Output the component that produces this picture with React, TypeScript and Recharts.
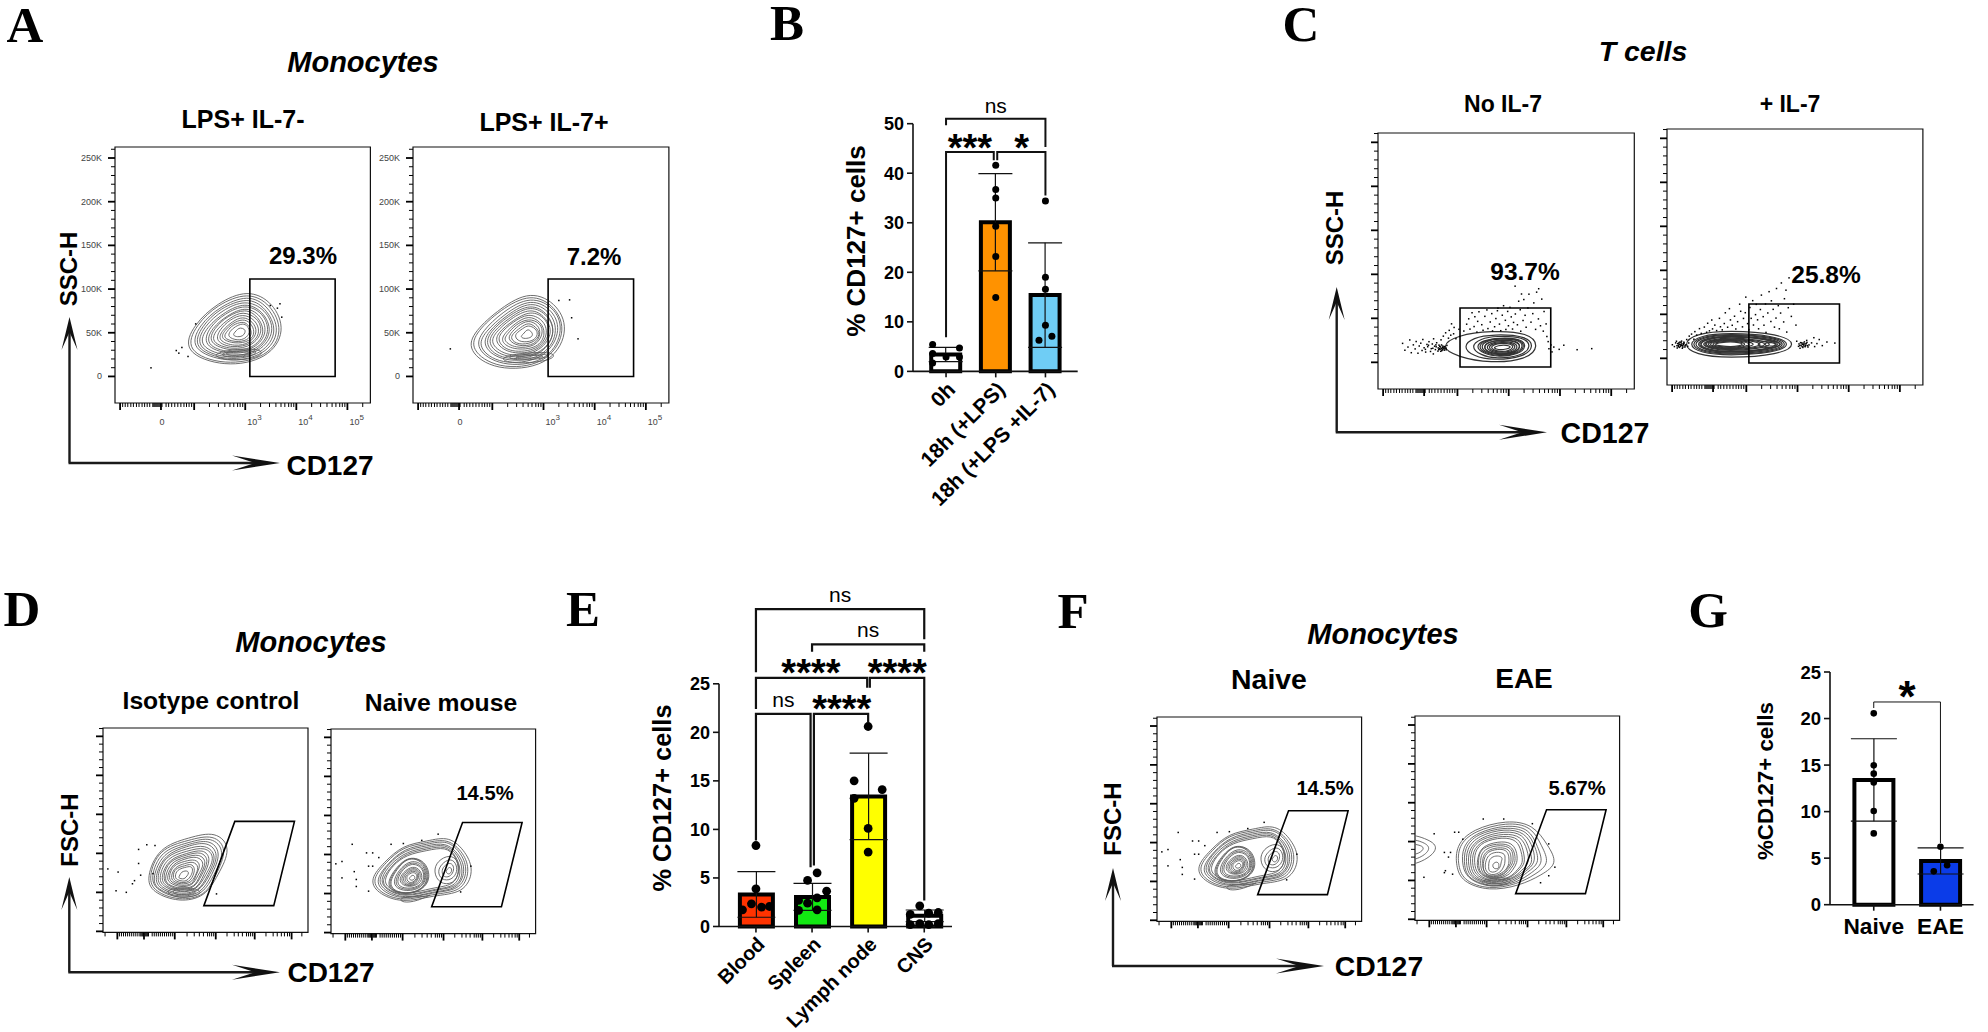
// App.tsx - CD127 flow cytometry and bar chart figure
import React from "react";
import {
  Bar,
  Cell,
  ComposedChart,
  ErrorBar,
  ReferenceArea,
  Scatter,
  ScatterChart,
  XAxis,
  YAxis,
} from "recharts";

type Pair = [number, number];

const SANS = "'Liberation Sans', Arial, sans-serif";
const SERIF = "'Liberation Serif', 'Times New Roman', serif";
const INK = "#111";

// ---- flow plot axes ----
const yMajor = [0, 50, 100, 150, 200, 250];
const yMinor = [10, 20, 30, 40, 60, 70, 80, 90, 110, 120, 130, 140, 160, 170, 180, 190, 210, 220, 230, 240, 260];
const yLabelsA = ["0", "50K", "100K", "150K", "200K", "250K"];

const xMajorAC = [2, 18, 31, 51, 71, 91];
const xMinorAC = [3, 4, 5, 6.2, 7.2, 8.4, 9.4, 10.6, 11.6, 12.6, 13.6, 14.8, 15.2, 15.6, 16, 16.4, 16.8, 17.2, 17.6, 18.4, 20, 21, 22.2, 23.4, 24.6, 25.8, 27, 28, 29, 30, 37, 40.5, 43, 45, 46.5, 48, 49, 50, 57, 60.5, 63, 65, 66.5, 68, 69, 70, 77, 80.5, 83, 85, 86.5, 88, 89, 90, 97];
const xLabelsA = ["0", "3", "4", "5"];
const xLabelTicksA = [18, 51, 71, 91];

const xMajorDF = [7, 20, 35, 55, 74, 92];
const xMinorDF = [1, 8, 9, 10, 11, 12, 13, 14, 15, 16, 17, 18, 18.5, 19, 19.4, 19.8, 20.6, 21, 21.4, 21.8, 22.2, 24, 25, 26, 27, 28, 29, 30, 31, 32, 33, 34, 41, 44.5, 47, 49, 51, 52, 53, 54, 60.5, 64, 66, 68, 70, 71, 72, 73, 79.5, 83, 85, 87, 88.5, 90, 91, 97];

// ---- gates ----
const gateA: Pair[] = [[52.8, 111.5], [86.2, 111.5], [86.2, 0], [52.8, 0]];
const gateC: Pair[] = [[32, 61.7], [67.4, 61.7], [67.4, -5.3], [32, -5.3]];
const gateDF: Pair[] = [[64.3, 141], [93.4, 141], [83.3, 33], [49.2, 33]];

// ---- contours, outermost first ----
const ringsLpsMinus: Pair[][] = [
  [[26, 28], [31, 60], [40, 84], [52, 100], [62, 85], [67, 52], [60, 20], [43, 10]],
  [[27, 29], [32, 60], [40, 82], [52, 97], [61, 83], [66, 52], [60, 22], [43, 12]],
  [[29, 31], [33, 59], [41, 80], [52, 94], [60, 81], [65, 52], [59, 24], [44, 15]],
  [[30, 32], [34, 58], [41, 78], [52, 91], [59, 79], [64, 52], [58, 25], [44, 17]],
  [[31, 33], [35, 58], [42, 76], [51, 88], [59, 77], [63, 52], [57, 27], [44, 19]],
  [[32, 34], [36, 57], [43, 74], [51, 85], [58, 75], [62, 51], [56, 28], [45, 21]],
  [[34, 35], [37, 57], [43, 72], [51, 83], [58, 73], [61, 51], [56, 30], [45, 24]],
  [[35, 36], [38, 56], [44, 70], [51, 80], [57, 71], [60, 51], [55, 31], [45, 26]],
  [[36, 38], [39, 56], [44, 69], [51, 78], [56, 69], [59, 51], [55, 33], [46, 28]],
  [[37, 39], [40, 55], [45, 67], [50, 75], [56, 67], [58, 51], [54, 35], [46, 30]],
  [[39, 40], [41, 54], [45, 65], [50, 72], [55, 65], [57, 51], [54, 37], [46, 32]],
  [[40, 41], [42, 53], [46, 63], [50, 69], [54, 63], [56, 51], [53, 38], [47, 34]],
  [[41, 43], [43, 53], [46, 61], [50, 66], [53, 62], [55, 51], [53, 40], [47, 37]],
  [[42, 44], [44, 52], [46, 59], [50, 63], [52, 60], [54, 50], [52, 41], [47, 39]],
  [[44, 45], [45, 52], [47, 57], [50, 61], [52, 58], [53, 50], [51, 43], [48, 41]],
  [[46, 47], [47, 51], [48, 54], [49, 56], [51, 54], [51, 50], [50, 46], [48, 45]],
  [[37, 24], [44, 30], [52, 32], [58, 30], [57, 22], [46, 17]],
  [[40, 25], [46, 29], [52, 30], [56, 28], [54, 24], [46, 21]],
  [[42, 26], [47, 28], [52, 28], [54, 27], [51, 25], [46, 24]],
];
const dotsLpsMinus: Pair[] = [[13.8, 10.7], [23.7, 30.5], [24.7, 27.5], [28.3, 23.7], [25.9, 34], [31.3, 61], [60.5, 82], [64.3, 84], [63.3, 79], [65, 68.7]];

const ringsLpsPlus: Pair[][] = [
  [[21, 30], [32, 6], [53, 11], [61, 50], [57, 82], [46, 99], [34, 78], [24, 52]],
  [[22, 31], [33, 8], [52, 13], [60, 50], [56, 80], [46, 96], [34, 76], [25, 52]],
  [[24, 32], [34, 11], [52, 15], [59, 50], [56, 78], [46, 93], [35, 74], [27, 52]],
  [[25, 33], [34, 13], [51, 18], [58, 50], [55, 76], [46, 90], [36, 72], [28, 51]],
  [[27, 34], [35, 16], [51, 20], [57, 50], [54, 74], [46, 87], [37, 71], [29, 51]],
  [[28, 35], [35, 18], [50, 22], [56, 49], [53, 72], [46, 84], [37, 69], [30, 51]],
  [[29, 36], [36, 20], [50, 24], [56, 49], [53, 70], [46, 82], [38, 68], [31, 51]],
  [[30, 37], [37, 22], [49, 26], [55, 49], [52, 68], [46, 79], [38, 66], [32, 50]],
  [[32, 38], [38, 25], [49, 28], [54, 49], [52, 67], [46, 76], [39, 64], [33, 50]],
  [[33, 39], [38, 27], [49, 30], [53, 49], [51, 65], [45, 73], [39, 62], [34, 50]],
  [[34, 40], [39, 30], [49, 32], [52, 49], [50, 63], [45, 70], [40, 61], [36, 50]],
  [[35, 41], [40, 32], [48, 34], [51, 49], [50, 61], [45, 67], [40, 59], [37, 49]],
  [[37, 42], [41, 34], [48, 36], [50, 49], [49, 59], [45, 65], [41, 58], [38, 49]],
  [[38, 43], [41, 36], [47, 38], [50, 48], [48, 57], [45, 62], [42, 56], [39, 49]],
  [[40, 44], [42, 39], [47, 40], [49, 48], [48, 55], [45, 59], [43, 55], [40, 49]],
  [[42, 46], [43, 43], [46, 44], [47, 48], [46, 52], [45, 54], [44, 52], [43, 48]],
  [[33, 20], [40, 26], [50, 28], [56, 26], [54, 18], [40, 14]],
  [[36, 22], [42, 25], [50, 26], [54, 24], [50, 20], [41, 18]],
  [[39, 22], [44, 24], [49, 24], [52, 23], [48, 21], [42, 21]],
];
const dotsLpsPlus: Pair[] = [[14.3, 32.4], [56.7, 87.8], [60.9, 88.5], [61.7, 68], [64.2, 43.9]];

const ringsNoIl7: Pair[][] = [
  [[24, 18], [31, 31], [44, 36], [59, 34], [63, 18], [58, 3], [44, -1], [31, 6]],
  [[33, 18], [37, 28], [45, 32], [58, 30], [61, 18], [57, 6], [45, 2], [37, 7]],
  [[36, 18], [40, 27], [46, 30], [57, 29], [60, 18], [56, 7], [46, 4], [40, 8]],
  [[38, 18], [41, 25], [47, 28], [56, 27], [58, 18], [55, 9], [47, 6], [41, 10]],
  [[39, 18], [41.5, 24.5], [47, 27.5], [55.5, 26.5], [57.5, 18], [54.5, 9.5], [47, 7], [41.5, 10.5]],
  [[40, 18], [42, 24], [47, 27], [55, 26], [57, 18], [54, 10], [47, 8], [42, 11]],
  [[41, 17.5], [43, 23.5], [48, 25], [54, 25], [56, 17.5], [53, 10.5], [48, 8.5], [43, 11]],
  [[41, 17], [43, 23], [48, 26], [54, 24], [56, 17], [53, 11], [48, 9], [43, 11]],
  [[42, 17], [44, 22], [48, 24], [53, 23], [55, 17], [52, 11], [48, 10], [44, 12]],
  [[43, 17], [44.5, 21], [48, 23], [52.5, 22], [54, 17], [51.5, 12], [48, 11], [44.5, 13]],
  [[44, 17], [45, 20], [48, 22], [52, 21], [53, 17], [51, 13], [48, 12], [45, 14]],
  [[45, 17], [47, 19], [49, 20], [51, 19], [52, 17], [50, 15], [48, 14], [46, 15]],
];
const dotsNoIl7: Pair[] = [
  [9.3, 22.4], [10.2, 14.6], [11.4, 18.2], [12.1, 26.3], [12.7, 11.8], [13.5, 20.7], [14.2, 16.1], [14.6, 24.5], [15.3, 11.2], [15.8, 19.4], [16.4, 22.6], [16.9, 14.3], [17.2, 26.8], [17.7, 17.4], [18.3, 12.5], [18.8, 21.2], [19.1, 18.6], [19.6, 24.3], [20.2, 13.2], [20.5, 16.4], [20.9, 21.7], [21.3, 10.4], [21.4, 27.6], [21.8, 19.2], [22.1, 15.3], [22.4, 18.5], [22.6, 23.1], [23.1, 13.6], [23.2, 17.2], [23.5, 20.4], [23.9, 15.7], [24.1, 18.3], [24.3, 26.4], [24.6, 14.2], [24.8, 17.5], [25, 19.3], [25.2, 30.6], [25.5, 16.2], [25.7, 18.8], [26.1, 34.4], [26.3, 15.1], [26.6, 20.1], [27.2, 28.3], [27.5, 37.2], [28.1, 31.7], [28.4, 44.6], [29.2, 33.3], [30.1, 27.7], [31.3, 38.4], [31.6, 30.2], [29.4, 40.5],
  [23.4, 15.2], [23.7, 16.6], [23.8, 19.1], [24.2, 13.4], [24.4, 16.3], [24.5, 20.6], [24.9, 15.1], [25.1, 16.8], [25.3, 18.2], [25.6, 14.7], [25.8, 17.3], [26.2, 16.6], [18.2, 15.6], [19.4, 20.3], [21.1, 16.8], [22.3, 20.7],
  [33.2, 36.4], [34.3, 44.2], [35.1, 50.3], [35.6, 38.6], [36.4, 57.2], [37.2, 41.5], [37.5, 52.7], [38.3, 35.2], [38.6, 47.4], [39.1, 58.3], [40.2, 43.6], [40.7, 37.3], [41.4, 53.1], [42.2, 60.4], [42.6, 39.2], [43.5, 46.7], [44.1, 56.2], [44.4, 36.5], [45.2, 41.3], [45.7, 50.6], [46.3, 59.5], [46.5, 62.4], [47.1, 44.3], [47.6, 36.8], [48.2, 54.4], [48.7, 65.2], [49.4, 48.6], [49.6, 38.2], [50.3, 58.7], [50.6, 42.4], [51.2, 63.3], [51.7, 52.5], [52.2, 38.7], [52.6, 46.2], [53.3, 55.8], [53.2, 87.4], [54.1, 43.5], [54.6, 70.3], [55.2, 60.6], [55.4, 36.2], [55.7, 78.5], [56.3, 48.4], [56.6, 72.2], [57.1, 54.3], [57.5, 40.7], [58.2, 62.6], [58.6, 78.3], [59.4, 46.5], [60.1, 56.2], [60.5, 68.4], [61.2, 38.3], [61.6, 80.6], [62.3, 50.2], [62.4, 84.5], [63.1, 42.4], [63.6, 72.7], [64.2, 36.3], [64.5, 58.6], [65.3, 44.5], [65.6, 30.2], [66.1, 24.4], [66.4, 16.3], [67.2, 20.6], [67.6, 12.7], [68.3, 18.2], [70.4, 15.6], [72.2, 20.3], [77.4, 15.2], [83.1, 16.4],
];

const ringsPlusIl7: Pair[][] = [
  [[6, 16], [11, 28], [24, 32], [44, 28], [51, 16], [44, 4], [24, 0], [11, 4]],
  [[8, 16], [13, 26], [24, 29], [42, 26], [49, 16], [42, 6], [24, 3], [13, 6]],
  [[9, 16], [13.5, 25], [24, 28], [41.5, 25], [48, 16], [41.5, 7], [24, 4], [13.5, 7]],
  [[10, 16], [14, 24], [24, 27], [41, 24], [47, 16], [41, 8], [24, 5], [14, 8]],
  [[11, 16], [15, 23], [24, 26], [40, 23], [46, 16], [40, 9], [24, 6], [15, 9]],
  [[11.5, 16], [15.5, 22.5], [24, 25.5], [39.5, 22.5], [45, 16], [39.5, 9.5], [24, 6.5], [15.5, 9.5]],
  [[12, 16], [16, 22], [24, 25], [39, 22], [44, 16], [39, 10], [24, 7], [16, 10]],
  [[13, 16], [17, 21], [24, 24], [36, 21], [42, 16], [36, 11], [24, 8], [17, 11]],
  [[13.5, 16], [17.5, 20.5], [24, 23], [34.5, 20.5], [40, 16], [34.5, 11.5], [24, 9], [17.5, 11.5]],
  [[14, 16], [18, 20], [24, 22], [33, 20], [38, 16], [33, 12], [24, 10], [18, 12]],
  [[15, 16], [18.5, 19.5], [24.5, 21.5], [31, 19.5], [35, 16], [31, 12.5], [24.5, 10.5], [18.5, 12.5]],
  [[16, 16], [19, 19], [25, 21], [30, 19], [33, 16], [30, 13], [25, 11], [19, 13]],
  [[17, 16], [20, 18.5], [25, 20], [29, 18.5], [31, 16], [29, 13.5], [25, 12], [20, 13.5]],
  [[18, 16], [21, 18], [25, 19], [28, 18], [30, 16], [28, 14], [25, 13], [21, 14]],
  [[35, 16], [37, 19], [40, 20], [43, 19], [45, 16], [43, 13], [40, 12], [37, 13]],
  [[38, 16], [39, 18], [41, 18], [42, 17], [43, 16], [42, 14], [40, 14], [39, 14]],
];
const dotsPlusIl7: Pair[] = [
  [1.8, 16.3], [2.6, 14.2], [3.1, 18.4], [3.4, 20.3], [3.7, 12.6], [4.1, 15.4], [4.3, 17.2], [4.6, 13.3], [4.9, 14.7], [5.1, 16.2], [5.2, 18.6], [5.4, 20.4], [5.7, 12.3], [5.8, 15.1], [6.1, 17.5], [6.3, 19.2], [6.7, 13.7], [7.1, 16.3], [7.4, 22.2], [7.8, 14.4], [8.2, 18.3], [8.4, 26.1], [9.3, 28.4], [10.2, 22.6], [10.6, 31.2], [11.3, 27.3], [12.4, 34.6], [13.1, 29.2], [14.3, 36.4], [15.2, 30.5], [15.6, 40.7], [16.3, 32.1], [17.2, 44.4], [17.5, 34.3], [18.4, 38.6], [19.1, 32.4], [20.2, 46.3], [20.6, 36.7], [21.3, 33.2], [22.1, 40.4], [22.5, 52.6], [23.4, 36.2], [24.1, 57.3], [24.5, 44.5], [25.2, 38.4], [26.1, 48.7], [26.6, 34.2], [27.3, 42.5], [28.1, 62.4], [28.5, 54.3], [29.2, 36.6], [29.6, 46.2], [30.3, 52.7], [30.5, 70.4], [31.2, 40.3], [31.7, 33.5], [32.1, 58.6], [32.6, 46.3], [33.2, 66.4], [33.5, 38.7], [34.3, 50.5], [34.6, 62.2], [35.1, 44.6], [35.5, 34.4], [36.2, 56.3], [36.6, 72.7], [37.3, 48.2], [37.6, 38.5], [38.2, 62.6], [38.4, 30.3], [39.1, 52.4], [39.6, 76.6], [40.3, 42.7], [40.5, 66.2], [41.2, 56.5], [41.7, 36.3], [42.3, 46.6], [42.5, 80.2], [43.2, 60.7], [43.6, 34.4], [44.1, 52.3], [44.4, 86.5], [45.3, 42.2], [45.6, 68.6], [46.2, 78.3], [46.5, 30.7], [47.1, 58.4], [47.4, 92.3], [48.3, 48.5], [49.2, 62.3], [50.1, 38.6], [50.4, 20.3], [51.1, 14.5], [51.3, 17.2], [51.7, 12.3], [52.1, 15.6], [52.3, 18.4], [52.8, 13.2], [53.1, 16.3], [53.4, 19.5], [53.7, 14.1], [54.1, 17.6], [54.3, 21.2], [54.8, 13.7], [55.2, 16.1], [56.2, 18.4], [57.1, 24.3], [57.4, 14.2], [58.3, 17.6], [59.2, 22.2], [60.4, 15.3], [62.2, 19.4], [65.3, 18.2],
  [3.6, 15.2], [3.9, 17.6], [4.2, 14.1], [4.4, 18.7], [4.7, 16.6], [4.8, 19.4], [5.3, 15.4], [5.5, 17.1], [5.9, 13.6], [6.2, 16.3], [6.4, 18.2], [6.8, 15.2], [51.6, 15.4], [51.9, 18.7], [52.5, 14.2], [52.6, 16.8], [52.9, 18.1], [53.2, 14.9], [53.6, 17.3], [53.9, 15.6], [54.4, 18.9], [54.6, 15.3],
];

const ringsIsotype: Pair[][] = [
  [[21, 68], [27, 108], [42, 120], [55, 129], [63, 107], [56, 72], [50, 44], [37, 37], [24, 50]],
  [[22, 68], [27, 106], [42, 117], [54, 125], [61, 105], [55, 72], [50, 45], [37, 39], [25, 51]],
  [[23, 68], [28, 104], [42, 114], [53, 122], [60, 103], [54, 72], [49, 47], [37, 41], [26, 53]],
  [[24, 68], [29, 101], [41, 111], [52, 119], [58, 101], [53, 72], [48, 48], [37, 43], [26, 54]],
  [[25, 69], [30, 99], [41, 109], [51, 116], [57, 99], [52, 72], [47, 50], [37, 45], [27, 55]],
  [[26, 69], [30, 97], [41, 106], [50, 112], [56, 97], [51, 72], [47, 51], [37, 47], [28, 56]],
  [[27, 69], [31, 95], [41, 103], [50, 109], [55, 95], [50, 72], [46, 53], [38, 49], [29, 57]],
  [[28, 69], [32, 93], [41, 100], [49, 106], [53, 93], [49, 72], [46, 54], [38, 50], [30, 58]],
  [[29, 69], [32, 91], [41, 98], [48, 103], [52, 91], [48, 72], [45, 56], [38, 52], [31, 59]],
  [[30, 69], [33, 89], [40, 95], [47, 100], [51, 89], [47, 71], [45, 57], [38, 54], [31, 60]],
  [[31, 70], [34, 87], [40, 93], [46, 97], [50, 87], [46, 71], [44, 59], [38, 56], [32, 62]],
  [[32, 70], [34, 85], [40, 90], [45, 93], [48, 85], [45, 71], [44, 60], [38, 58], [33, 63]],
  [[33, 70], [35, 83], [40, 87], [44, 90], [47, 83], [45, 71], [43, 62], [38, 60], [34, 64]],
  [[34, 70], [35, 81], [40, 84], [43, 87], [45, 81], [44, 71], [42, 63], [38, 62], [35, 65]],
  [[35, 70], [36, 79], [40, 82], [43, 84], [44, 79], [43, 71], [41, 65], [39, 64], [36, 66]],
  [[37, 70], [38, 75], [39, 77], [41, 78], [42, 75], [41, 71], [40, 68], [39, 67], [37, 68]],
  [[30, 52], [36, 56], [44, 56], [49, 50], [44, 44], [35, 43]],
  [[33, 52], [38, 55], [43, 54], [46, 50], [43, 47], [36, 46]],
];
const dotsIsotype: Pair[] = [[21, 112], [17, 106], [25, 111], [17, 88], [7, 77], [2, 81], [15, 66], [14, 62], [6, 53], [11, 51], [18, 73], [24, 75], [55, 49]];

const ringsNaive: Pair[][] = [
  [[19, 69], [26, 90], [35, 112], [47, 117], [58, 124], [66, 103], [70, 79], [65, 50], [50, 48], [35, 37], [22, 51]],
  [[20, 69], [27, 90], [35, 110], [47, 115], [57, 121], [65, 102], [68, 79], [64, 52], [50, 50], [35, 39], [23, 52]],
  [[22, 69], [28, 89], [36, 108], [47, 113], [57, 119], [64, 101], [67, 79], [63, 54], [50, 52], [35, 41], [24, 54]],
  [[23, 69], [28, 88], [36, 106], [47, 111], [56, 116], [63, 100], [66, 79], [62, 55], [50, 53], [36, 42], [25, 55]],
  [[24, 69], [29, 88], [37, 104], [47, 109], [56, 114], [62, 100], [65, 79], [62, 57], [50, 55], [36, 44], [26, 56]],
  [[25, 69], [30, 87], [37, 102], [47, 107], [56, 112], [61, 99], [64, 79], [61, 58], [50, 56], [36, 45], [26, 57]],
  [[26, 69], [30, 86], [37, 100], [47, 105], [56, 110], [61, 98], [63, 79], [60, 60], [50, 58], [36, 47], [27, 58]],
  [[27, 62], [31, 81], [38, 99], [47, 91], [49, 64], [41, 49], [31, 50]],
  [[27.5, 62], [31.5, 81], [38, 98.5], [46.5, 90.5], [48.5, 64], [41, 49.5], [31.5, 50.5]],
  [[28, 62], [32, 81], [38, 98], [46, 90], [48, 64], [41, 50], [32, 51]],
  [[30, 64], [33, 80], [39, 94], [46, 87], [47, 64], [41, 53], [33, 54]],
  [[31, 64], [33.5, 79], [39, 92], [45.5, 85], [46.5, 65], [41, 54.5], [33.5, 55.5]],
  [[32, 65], [34, 78], [39, 90], [45, 84], [46, 66], [41, 56], [34, 57]],
  [[33, 66], [35, 77], [40, 86], [44, 80], [45, 67], [41, 59], [36, 59]],
  [[34, 66.5], [35.5, 76], [40, 84], [43.5, 79], [44, 67.5], [40.5, 60], [36.5, 60]],
  [[35, 67], [36, 75], [40, 82], [43, 78], [43, 68], [40, 61], [37, 61]],
  [[36, 67.5], [36.5, 74], [40, 80], [42.5, 76.5], [42.5, 68.5], [40, 62.5], [37.5, 62.5]],
  [[37, 68], [37, 73], [40, 78], [42, 75], [42, 69], [40, 64], [38, 64]],
  [[38, 69], [39, 72], [40, 74], [41, 72], [41, 69], [40, 67], [39, 67]],
  [[50, 78], [52, 92], [58, 100], [62, 93], [63, 78], [60, 62], [53, 62]],
  [[52, 78], [54, 88], [58, 95], [61, 90], [62, 78], [59, 67], [54, 67]],
  [[54, 78], [55, 85], [58, 90], [60, 86], [60, 78], [58, 71], [55, 71]],
  [[56, 78], [57, 82], [58, 84], [59, 82], [59, 78], [58, 75], [57, 75]],
  [[33, 44], [40, 46], [47, 46], [50, 50], [42, 40], [35, 38]],
];
const dotsNaive: Pair[] = [[10, 114], [29, 114], [35, 115], [44, 119], [52, 127], [17, 103], [20, 103], [23, 97], [2, 89], [5, 92], [11, 79], [18, 86], [20, 86], [12, 69], [5, 71], [12, 60], [18, 54], [68, 86], [63, 53]];

const ringsEae: Pair[][] = [
  [[20, 68], [20, 95], [28, 116], [45, 128], [58, 122], [65, 95], [70, 72], [62, 57], [51, 43], [36, 36], [23, 48]],
  [[21, 68], [21, 95], [29, 114], [45, 125], [57, 120], [62, 94], [66, 72], [59, 58], [50, 45], [36, 38], [24, 49]],
  [[23, 68], [23, 94], [30, 112], [45, 122], [56, 117], [60, 93], [63, 72], [57, 60], [50, 47], [37, 40], [26, 51]],
  [[24, 68], [24, 92], [30, 110], [44, 119], [55, 115], [59, 92], [61, 72], [55, 61], [49, 48], [37, 41], [26, 52]],
  [[25, 68], [25, 91], [31, 108], [44, 117], [54, 112], [58, 91], [59, 72], [54, 62], [49, 50], [37, 43], [27, 53]],
  [[26, 68], [26, 90], [32, 106], [44, 114], [53, 110], [56, 90], [58, 72], [53, 62], [48, 51], [37, 45], [28, 53]],
  [[27, 68], [27, 89], [32, 104], [44, 111], [52, 107], [55, 89], [56, 72], [52, 63], [48, 52], [37, 46], [29, 54]],
  [[28, 68], [28, 88], [33, 102], [43, 108], [51, 105], [53, 88], [54, 72], [51, 64], [47, 53], [38, 47], [30, 55]],
  [[29, 68], [29, 87], [33, 100], [43, 106], [50, 102], [52, 87], [53, 72], [50, 64], [47, 54], [38, 48], [31, 56]],
  [[30, 68], [31, 85], [34, 96], [43, 101], [48, 97], [50, 85], [50, 72], [48, 65], [46, 56], [38, 50], [32, 57]],
  [[31, 68], [31, 84], [34, 94], [42, 98], [47, 95], [49, 84], [49, 72], [47, 66], [45, 57], [38, 51], [32, 58]],
  [[32, 68], [32, 83], [35, 92], [42, 96], [47, 92], [48, 83], [48, 72], [46, 66], [44, 58], [38, 52], [33, 58]],
  [[33, 68], [33, 82], [36, 90], [42, 93], [46, 90], [47, 82], [47, 71], [45, 66], [44, 59], [38, 53], [34, 58]],
  [[33, 68], [34, 81], [36, 88], [42, 91], [45, 88], [46, 81], [46, 71], [45, 66], [43, 60], [38, 54], [34, 59]],
  [[34, 68], [35, 79], [37, 85], [41, 87], [44, 84], [44, 79], [44, 71], [43, 66], [42, 61], [38, 56], [35, 60]],
  [[36, 67], [36, 76], [38, 81], [41, 82], [43, 79], [42, 74], [42, 69], [41, 65], [40, 62], [38, 60], [36, 62]],
  [[38, 67], [38, 71], [39, 73], [40, 74], [41, 72], [41, 69], [41, 66], [40, 65], [39, 65]],
  [[31, 48], [37, 53], [44, 54], [48, 50], [44, 44], [36, 42]],
  [[33, 48], [38, 51], [43, 52], [46, 49], [43, 46], [37, 45]],
  [[-8, 114], [6, 104], [12, 93], [6, 76], [-8, 64]],
  [[-6, 106], [4, 100], [8, 92], [4, 80], [-6, 72]],
  [[-4, 98], [2, 96], [5, 92], [2, 84], [-4, 82]],
];
const dotsEae: Pair[] = [[9, 111], [14.5, 63.5], [19, 113], [21, 113], [23, 104], [17, 87], [14, 87], [16, 81], [14, 61], [18, 59], [4, 55], [33, 130], [43, 130], [57, 124], [65, 98], [68, 68], [65, 57], [61, 48]];

// ---- bar panel B ----
const bCategories = ["0h", "18h (+LPS)", "18h (+LPS +IL-7)"];
const bMeans = [3.4, 30.1, 15.4];
const bErrors = [1.45, 9.8, 10.55];
const bColors = ["#ffffff", "#ff9200", "#6fcdf5"];
const bTicks = [0, 10, 20, 30, 40, 50];
const bDots: Pair[] = [[-0.27, 5.45], [0.27, 4.7], [-0.27, 3.6], [0, 2.9], [-0.27, 1.7], [0.27, 2.9], [1, 41.6], [1, 36.7], [1, 35], [1, 29.3], [1, 23.2], [1, 14.9], [2, 34.4], [2, 19], [2, 16.6], [2, 9.3], [1.87, 6.3], [2.13, 7.1]];
const bBrackets: Pair[][] = [
  [[0, 49.7], [0, 51], [2, 51], [2, 45.3]],
  [[0, 6.9], [0, 44.3], [0.96, 44.3], [0.96, 42.6]],
  [[1.03, 42.6], [1.03, 44.3], [2, 44.3], [2, 35.5]],
];
const bMarks = [
  { x: 1, y: 53.7, text: "ns" },
  { x: 0.48, y: 46.8, text: "***" },
  { x: 1.52, y: 46.8, text: "*" },
];

// ---- bar panel E ----
const eCategories = ["Blood", "Spleen", "Lymph node", "CNS"];
const eMeans = [3.3, 3.05, 13.4, 1.1];
const eErrors = [2.35, 1.4, 4.45, 0.6];
const eColors = ["#ff3300", "#12e812", "#ffff00", "#ffffff"];
const eTicks = [0, 5, 10, 15, 20, 25];
const eDots: Pair[] = [[0, 8.34], [0, 3.88], [-0.08, 2.33], [-0.24, 1.72], [0.1, 2], [0.24, 2.06], [1.09, 5.53], [0.92, 4.74], [1.26, 3.64], [1.09, 2.95], [0.76, 2.68], [0.92, 2.4], [0.76, 1.65], [1.09, 1.72], [2, 20.6], [1.75, 15], [2.25, 14.1], [1.75, 13.2], [2, 10.1], [2, 7.66], [2.92, 2.13], [2.75, 1.24], [3.08, 1.37], [3.25, 1.44], [2.75, 0.2], [2.92, 0.3], [3.08, 0.2], [3.25, 0.3]];
const eBrackets: Pair[][] = [
  [[0, 26.2], [0, 32.7], [3, 32.7], [3, 29.6]],
  [[1, 28.3], [1, 29.05], [3, 29.05], [3, 28.3]],
  [[0, 22.4], [0, 25.6], [1.983, 25.6], [1.983, 24.6]],
  [[2.03, 24.6], [2.03, 25.6], [3, 25.6], [3, 2.68]],
  [[0, 8.86], [0, 21.9], [0.974, 21.9], [0.974, 6.1]],
  [[1.033, 6.28], [1.033, 21.9], [2, 21.9], [2, 21.05]],
];
const eMarks = [
  { x: 1.5, y: 34.2, text: "ns" },
  { x: 2, y: 30.56, text: "ns" },
  { x: 0.98, y: 26.96, text: "****" },
  { x: 2.52, y: 26.96, text: "****" },
  { x: 0.49, y: 23.4, text: "ns" },
  { x: 1.53, y: 23.3, text: "****" },
];

// ---- bar panel G ----
const gCategories = ["Naive", "EAE"];
const gMeans = [13.4, 4.7];
const gErrors = [4.43, 1.4];
const gColors = ["#ffffff", "#0b3ce8"];
const gTicks = [0, 5, 10, 15, 20, 25];
const gDots: Pair[] = [[0, 20.56], [0, 14.97], [0, 14.08], [0, 13.14], [0, 10.06], [0, 7.66], [1, 6.23], [1.1, 4.23], [0.9, 3.58]];
const gBrackets: Pair[][] = [[[0, 21.13], [0, 21.78], [1, 21.78], [1, 6.63]]];
const gMarks = [{ x: 0.5, y: 23.35, text: "*" }];

const toPoints = (list: Pair[]) => list.map(([x, y]) => ({ x, y }));

function Txt({ x, y, size, children, italic, serif, rotate, weight = 700 }: any) {
  return (
    <div
      style={{
        position: "absolute",
        left: x,
        top: y,
        transform: `translate(-50%, -50%) rotate(${rotate || 0}deg)`,
        fontFamily: serif ? SERIF : SANS,
        fontSize: size,
        fontWeight: weight,
        fontStyle: italic ? "italic" : "normal",
        color: "#000",
        whiteSpace: "nowrap",
        lineHeight: serif ? 0.8 : 1,
      }}
    >
      {children}
    </div>
  );
}

interface FlowProps {
  x: number;
  y: number;
  w: number;
  h: number;
  yDomain: [number, number];
  xMajor: number[];
  xMinor: number[];
  rings: Pair[][];
  dots: Pair[];
  gate: Pair[];
  ringColor?: string;
  ringWidth?: number;
  labelled?: boolean;
}

// One contour plot; the frame is the plot area of the chart
function FlowPlot({ x, y, w, h, yDomain, xMajor, xMinor, rings, dots, gate, ringColor = "#5e5e5e", ringWidth = 0.9, labelled }: FlowProps) {
  const pad = 40;
  const xTick = (p: any) => {
    const v = p.payload.value;
    const major = xMajor.includes(v);
    const labelIndex = labelled ? xLabelTicksA.indexOf(v) : -1;
    return (
      <g>
        <line x1={p.x} x2={p.x} y1={p.y} y2={p.y + (major ? 7 : 4)} stroke="#000" strokeWidth={major ? 1.8 : 1} />
        {labelIndex === 0 && (
          <text x={p.x + 1} y={p.y + 22} fontSize={9} fontFamily={SANS} fill="#444" textAnchor="middle">
            0
          </text>
        )}
        {labelIndex > 0 && (
          <text x={p.x + 2} y={p.y + 22} fontSize={9} fontFamily={SANS} fill="#444">
            10
            <tspan dy={-5} fontSize={8}>
              {xLabelsA[labelIndex]}
            </tspan>
          </text>
        )}
      </g>
    );
  };
  const yTick = (p: any) => {
    const v = p.payload.value;
    const major = yMajor.includes(v);
    return (
      <g>
        <line x1={p.x - (major ? 7 : 4)} x2={p.x} y1={p.y} y2={p.y} stroke="#000" strokeWidth={major ? 1.8 : 1} />
        {labelled && major && (
          <text x={p.x - 13} y={p.y + 3} fontSize={9} fontFamily={SANS} fill="#444" textAnchor="end">
            {yLabelsA[yMajor.indexOf(v)]}
          </text>
        )}
      </g>
    );
  };

  return (
    <div style={{ position: "absolute", left: x - pad, top: y - pad }}>
      <ScatterChart width={w + pad * 2} height={h + pad * 2} margin={{ top: pad, right: pad, bottom: pad - 1, left: pad - 1 }}>
        <XAxis
          type="number"
          dataKey="x"
          domain={[0, 100]}
          ticks={[...xMajor, ...xMinor]}
          interval={0}
          height={1}
          tickSize={0}
          tickMargin={0}
          axisLine={false}
          tickLine={false}
          tick={xTick}
          allowDataOverflow
        />
        <YAxis
          type="number"
          dataKey="y"
          domain={yDomain}
          ticks={[...yMajor, ...yMinor]}
          interval={0}
          width={1}
          tickSize={0}
          tickMargin={0}
          axisLine={false}
          tickLine={false}
          tick={yTick}
        />
        <ReferenceArea x1={0} x2={100} y1={yDomain[0]} y2={yDomain[1]} fill="none" stroke="#111" strokeWidth={1.2} />
        {rings.map((ring, i) => (
          <Scatter
            key={i}
            data={toPoints(ring)}
            line={{ stroke: ringColor, strokeWidth: ringWidth }}
            lineJointType="basisClosed"
            shape={() => <g />}
            isAnimationActive={false}
          />
        ))}
        <Scatter
          data={toPoints(dots)}
          shape={(p: any) => <rect x={p.cx} y={p.cy} width={1.5} height={1.5} fill="#000" />}
          isAnimationActive={false}
        />
        <Scatter
          data={toPoints(gate)}
          line={{ stroke: "#000", strokeWidth: 1.6 }}
          lineJointType="linearClosed"
          shape={() => <g />}
          isAnimationActive={false}
        />
      </ScatterChart>
    </div>
  );
}

interface BarProps {
  x: number;
  bottom: number;
  w: number;
  h: number;
  extent: number;
  categories: string[];
  means: number[];
  errors: number[];
  colors: string[];
  dots: Pair[];
  brackets: Pair[][];
  marks: { x: number; y: number; text: string }[];
  ticks: number[];
  step: number;
  padLeft: number;
  barSize: number;
  capWidth: number;
  tickFont: number;
  labelFont: number;
  angled?: boolean;
  bracketWidth?: number;
  starFont?: number;
  nsFont?: number;
  dotRadius?: number;
}

// Bars sit on a category axis, the dots and brackets on a hidden numeric one lined up with it.
// The y domain runs past the last tick to make room for the brackets, so the axis line is its own series.
function BarPanel(props: BarProps) {
  const { x, bottom, w, h, extent, categories, means, errors, colors, dots, brackets, marks, ticks, step, padLeft, barSize, capWidth, tickFont, labelFont, angled, bracketWidth = 2, starFont = 38, nsFont = 21, dotRadius = 3.5 } = props;
  const n = categories.length;
  const tickMax = ticks[ticks.length - 1];
  const plotH = (h / tickMax) * extent;
  const padRight = w - padLeft - step * n;
  const left = 60;
  const top = 10;
  const below = 170;
  const data = categories.map((name, i) => ({ name, mean: means[i], err: errors[i] }));
  const numDomain: [number, number] = [-(padLeft + step / 2) / step, n - 1 + (padRight + step / 2) / step];
  const axisLine: Pair[] = [[numDomain[0], 0], [numDomain[0], tickMax]];

  return (
    <div style={{ position: "absolute", left: x - left, top: bottom - plotH - top }}>
      <ComposedChart
        width={w + left + 6}
        height={plotH + top + below}
        data={data}
        margin={{ top, right: 6, bottom: below - 1, left: left - 1 }}
      >
        <XAxis
          xAxisId="cat"
          dataKey="name"
          type="category"
          interval={0}
          height={1}
          padding={{ left: padLeft, right: padRight }}
          axisLine={{ stroke: INK, strokeWidth: 1.6 }}
          tickLine={{ stroke: INK, strokeWidth: 1.6 }}
          tickSize={6}
          tickMargin={angled ? 3 : 7}
          angle={angled ? -45 : 0}
          textAnchor={angled ? "end" : "middle"}
          tick={{ fontSize: labelFont, fontWeight: 700, fontFamily: SANS, fill: "#000" }}
        />
        <XAxis xAxisId="num" dataKey="x" type="number" hide domain={numDomain} />
        <YAxis
          type="number"
          domain={[0, extent]}
          ticks={ticks}
          interval={0}
          width={1}
          axisLine={false}
          tickLine={{ stroke: INK, strokeWidth: 1.6 }}
          tickSize={6}
          tickMargin={3}
          tick={{ fontSize: tickFont, fontWeight: 700, fontFamily: SANS, fill: "#000" }}
        />
        <Scatter
          xAxisId="num"
          dataKey="y"
          data={toPoints(axisLine)}
          line={{ stroke: INK, strokeWidth: 1.6 }}
          lineJointType="linear"
          shape={() => <g />}
          isAnimationActive={false}
        />
        <Bar xAxisId="cat" dataKey="mean" barSize={barSize} stroke="#000" strokeWidth={4} isAnimationActive={false}>
          {colors.map((c, i) => (
            <Cell key={i} fill={c} />
          ))}
          <ErrorBar dataKey="err" direction="y" width={capWidth} stroke={INK} strokeWidth={1.2} isAnimationActive={false} />
        </Bar>
        {brackets.map((b, i) => (
          <Scatter
            key={i}
            xAxisId="num"
            dataKey="y"
            data={toPoints(b)}
            line={{ stroke: "#111", strokeWidth: bracketWidth }}
            lineJointType="linear"
            shape={() => <g />}
            isAnimationActive={false}
          />
        ))}
        <Scatter
          xAxisId="num"
          dataKey="y"
          data={toPoints(dots)}
          shape={(p: any) => <circle cx={p.cx} cy={p.cy} r={dotRadius} fill="#000" />}
          isAnimationActive={false}
        />
        <Scatter
          xAxisId="num"
          dataKey="y"
          data={marks}
          shape={(p: any) => {
            const star = p.payload.text.startsWith("*");
            return (
              <text
                x={p.cx}
                y={p.cy + (star ? starFont * 0.56 : nsFont * 0.36)}
                textAnchor="middle"
                fontFamily={SANS}
                fontWeight={star ? 700 : 400}
                fontSize={star ? starFont : nsFont}
                fill="#000"
              >
                {p.payload.text}
              </text>
            );
          }}
          isAnimationActive={false}
        />
      </ComposedChart>
    </div>
  );
}

function Arrows({ x, y, upTip, rightTip }: { x: number; y: number; upTip: number; rightTip: number }) {
  return (
    <g>
      <path d={`M${x},${y} L${x},${upTip + 10} M${x - 1},${y} L${rightTip - 20},${y}`} stroke="#1a1a1a" strokeWidth={2.4} fill="none" />
      <path d={`M${x},${upTip} L${x - 8},${upTip + 33} L${x},${upTip + 15} L${x + 8},${upTip + 33} Z`} fill="#111" />
      <path d={`M${rightTip},${y} L${rightTip - 48},${y - 7.5} L${rightTip - 25},${y} L${rightTip - 48},${y + 7.5} Z`} fill="#111" />
    </g>
  );
}

export default function App() {
  const yA: [number, number] = [-30.4, 262.6];
  const yC: [number, number] = [-30.3, 260.6];
  const yD: [number, number] = [-1.3, 260.7];
  const yF: [number, number] = [-1.3, 261.6];

  return (
    <div style={{ position: "absolute", left: 0, top: 0, width: 1988, height: 1032, background: "#fff", overflow: "hidden" }}>
      <svg width={1988} height={1032} style={{ position: "absolute", left: 0, top: 0 }}>
        <Arrows x={69.5} y={463} upTip={317} rightTip={280} />
        <Arrows x={1336.7} y={432.3} upTip={287} rightTip={1547} />
        <Arrows x={69.3} y={972.3} upTip={877} rightTip={280} />
        <Arrows x={1113} y={966} upTip={868} rightTip={1324} />
      </svg>

      {/* Panel A */}
      <FlowPlot x={115} y={147.3} w={255.4} h={256} yDomain={yA} xMajor={xMajorAC} xMinor={xMinorAC} rings={ringsLpsMinus} dots={dotsLpsMinus} gate={gateA} labelled />
      <FlowPlot x={412.5} y={147.3} w={255.9} h={256} yDomain={yA} xMajor={xMajorAC} xMinor={xMinorAC} rings={ringsLpsPlus} dots={dotsLpsPlus} gate={gateA} labelled />
      {/* Panel C */}
      <FlowPlot x={1378.4} y={133.3} w={256.3} h={256} yDomain={yC} xMajor={xMajorAC} xMinor={xMinorAC} rings={ringsNoIl7} dots={dotsNoIl7} gate={gateC} ringColor="#333" ringWidth={1.2} />
      <FlowPlot x={1666.5} y={129.3} w={255.9} h={256} yDomain={yC} xMajor={xMajorAC} xMinor={xMinorAC} rings={ringsPlusIl7} dots={dotsPlusIl7} gate={gateC} ringColor="#333" ringWidth={1.2} />
      {/* Panel D */}
      <FlowPlot x={103.3} y={728.3} w={205} h={204.4} yDomain={yD} xMajor={xMajorDF} xMinor={xMinorDF} rings={ringsIsotype} dots={dotsIsotype} gate={gateDF} />
      <FlowPlot x={330.7} y={728.7} w={204.6} h={204.6} yDomain={yD} xMajor={xMajorDF} xMinor={xMinorDF} rings={ringsNaive} dots={dotsNaive} gate={gateDF} />
      {/* Panel F */}
      <FlowPlot x={1156.8} y={716.7} w={204.6} h={204.3} yDomain={yF} xMajor={xMajorDF} xMinor={xMinorDF} rings={ringsNaive} dots={dotsNaive} gate={gateDF} />
      <FlowPlot x={1414.7} y={715.7} w={204.6} h={204.3} yDomain={yF} xMajor={xMajorDF} xMinor={xMinorDF} rings={ringsEae} dots={dotsEae} gate={gateDF} />

      {/* Bar panels */}
      <BarPanel x={913.3} bottom={371} w={164.7} h={247.7} extent={57} categories={bCategories} means={bMeans} errors={bErrors} colors={bColors} dots={bDots} brackets={bBrackets} marks={bMarks} ticks={bTicks} step={49.7} padLeft={8.2} barSize={29} capWidth={17} tickFont={18} labelFont={21} angled />
      <BarPanel x={719} bottom={926} w={233} h={242.7} extent={36} categories={eCategories} means={eMeans} errors={eErrors} colors={eColors} dots={eDots} brackets={eBrackets} marks={eMarks} ticks={eTicks} step={56.1} padLeft={8.9} barSize={33} capWidth={19} tickFont={18} labelFont={20} angled bracketWidth={2.2} dotRadius={4.4} />
      <BarPanel x={1830} bottom={905} w={143.6} h={232.7} extent={25} categories={gCategories} means={gMeans} errors={gErrors} colors={gColors} dots={gDots} brackets={gBrackets} marks={gMarks} ticks={gTicks} step={66.7} padLeft={10.4} barSize={39} capWidth={23} tickFont={18.5} labelFont={22.7} bracketWidth={1} starFont={44} dotRadius={3.3} />

      {/* Panel letters */}
      <Txt x={25} y={25} size={51} serif>A</Txt>
      <Txt x={787} y={23} size={51} serif>B</Txt>
      <Txt x={1301} y={24} size={51} serif>C</Txt>
      <Txt x={22} y={609} size={51} serif>D</Txt>
      <Txt x={583} y={609} size={51} serif>E</Txt>
      <Txt x={1073} y={611} size={51} serif>F</Txt>
      <Txt x={1708} y={610} size={51} serif>G</Txt>

      {/* Titles */}
      <Txt x={363} y={62} size={29} italic>Monocytes</Txt>
      <Txt x={243} y={119} size={25}>LPS+ IL-7-</Txt>
      <Txt x={544} y={122} size={25}>LPS+ IL-7+</Txt>
      <Txt x={303} y={256} size={24}>29.3%</Txt>
      <Txt x={594} y={257} size={24}>7.2%</Txt>
      <Txt x={330} y={466} size={28}>CD127</Txt>
      <Txt x={68.6} y={269} size={24} rotate={-90}>SSC-H</Txt>

      <Txt x={856} y={241} size={26} rotate={-90}>% CD127+ cells</Txt>

      <Txt x={1643} y={51} size={28.5} italic>T cells</Txt>
      <Txt x={1503} y={104} size={23}>No IL-7</Txt>
      <Txt x={1790} y={104} size={23}>+ IL-7</Txt>
      <Txt x={1525} y={272} size={24.5}>93.7%</Txt>
      <Txt x={1826} y={275} size={24.5}>25.8%</Txt>
      <Txt x={1605} y={433} size={28.6}>CD127</Txt>
      <Txt x={1334.7} y={227.5} size={24} rotate={-90}>SSC-H</Txt>

      <Txt x={311} y={642} size={29} italic>Monocytes</Txt>
      <Txt x={211} y={701} size={24.7}>Isotype control</Txt>
      <Txt x={441} y={703} size={24.7}>Naive mouse</Txt>
      <Txt x={485} y={793} size={20.2}>14.5%</Txt>
      <Txt x={331} y={973} size={28}>CD127</Txt>
      <Txt x={70} y={830} size={24} rotate={-90}>FSC-H</Txt>

      <Txt x={663} y={798} size={25.4} rotate={-90}>% CD127+ cells</Txt>

      <Txt x={1383} y={634} size={29} italic>Monocytes</Txt>
      <Txt x={1269} y={679} size={28.4}>Naive</Txt>
      <Txt x={1524} y={679} size={28}>EAE</Txt>
      <Txt x={1325} y={788} size={20.2}>14.5%</Txt>
      <Txt x={1577} y={788} size={20.2}>5.67%</Txt>
      <Txt x={1379} y={966} size={28.4}>CD127</Txt>
      <Txt x={1113} y={819} size={24} rotate={-90}>FSC-H</Txt>

      <Txt x={1766} y={781} size={22.3} rotate={-90}>%CD127+ cells</Txt>
    </div>
  );
}
